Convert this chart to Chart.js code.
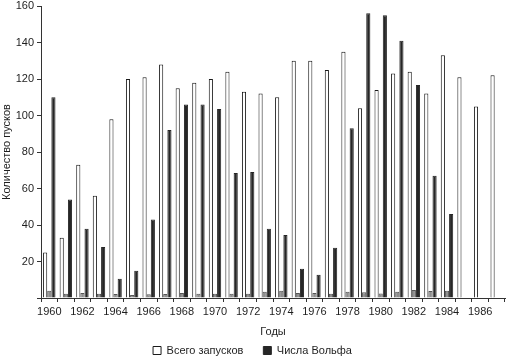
<!DOCTYPE html>
<html>
<head>
<meta charset="utf-8">
<script src="https://cdn.jsdelivr.net/npm/chart.js@4/dist/chart.umd.min.js"></script>
<style>
  html, body { margin: 0; padding: 0; background: #fff; }
  #wrap { width: 509px; height: 358px; position: relative; }
</style>
</head>
<body>
<div id="wrap"><canvas id="c" width="509" height="358"></canvas></div>
<script>
const years = ['1960','1961','1962','1963','1964','1965','1966','1967','1968','1969',
               '1970','1971','1972','1973','1974','1975','1976','1977','1978','1979',
               '1980','1981','1982','1983','1984','1985','1986','1987'];
const totalLaunches = [25, 33, 73, 56, 98, 120, 121, 128, 115, 118,
                       120, 124, 113, 112, 110, 130, 130, 125, 135, 104,
                       114, 123, 124, 112, 133, 121, 105, 122];
const smallSeries = [4, 2.3, 2.7, 2.3, 2.2, 1.6, 2, 2.2, 2.7, 2.3,
                     2.3, 2.3, 2.3, 3.4, 4, 2.7, 2.7, 2.3, 3.4, 3.1,
                     2.5, 3.4, 4.4, 3.8, 4, null, null, null];
const wolfNumbers = [110, 54, 38, 28, 10.5, 15, 43, 92, 106, 106,
                     103.5, 68.5, 69, 38, 34.5, 16, 12.8, 27.5, 93, 156,
                     155, 141, 116.7, 67, 46, null, null, null];
const yTicks = [0, 20, 40, 60, 80, 100, 120, 140, 160];
const seriesNames = ['Всего запусков', 'Числа Вольфа'];
const axisTitles = { x: 'Годы', y: 'Количество пусков' };

const FONT = 'Liberation Sans, Arial, sans-serif';
const TXT = '#1e1e1e';
const AX = '#333333';

new Chart(document.getElementById('c'), {
  type: 'bar',
  data: {
    labels: years,
    datasets: [
      { label: seriesNames[0], data: totalLaunches, backgroundColor: '#ffffff',
        borderColor: '#1a1a1a', borderWidth: 1 },
      { label: '', data: smallSeries, backgroundColor: '#8e8e8e',
        borderColor: '#555555', borderWidth: 1 },
      { label: seriesNames[1], data: wolfNumbers, backgroundColor: '#262626',
        borderColor: '#262626', borderWidth: 1 }
    ]
  },
  options: {
    responsive: false,
    animation: false,
    devicePixelRatio: 1,
    layout: { padding: { top: 6, right: 4, left: 0, bottom: -8 } },
    datasets: { bar: { categoryPercentage: 0.75, barPercentage: 1.0 } },
    plugins: {
      tooltip: { enabled: false },
      legend: {
        position: 'bottom',
        labels: {
          boxWidth: 8, boxHeight: 8, padding: 20,
          color: TXT, font: { family: FONT, size: 11 },
          filter: (item) => item.datasetIndex !== 1
        }
      }
    },
    scales: {
      x: {
        offset: true,
        grid: { display: true, drawOnChartArea: false, drawTicks: true, tickLength: 4, offset: true, color: AX },
        border: { display: true, color: AX },
        ticks: {
          autoSkip: false, maxRotation: 0, minRotation: 0, padding: 3,
          color: TXT, font: { family: FONT, size: 11 },
          callback: function(val, idx) { return idx % 2 === 0 ? this.getLabelForValue(val) : ''; }
        },
        title: { display: true, text: axisTitles.x, color: TXT, font: { family: FONT, size: 11 },
                 padding: { top: 0, bottom: -14 } },
        afterFit: (s) => { s.height = 27; }
      },
      y: {
        min: yTicks[0], max: yTicks[yTicks.length - 1],
        afterBuildTicks: (s) => { s.ticks = yTicks.map(v => ({ value: v })); },
        grid: { display: true, drawOnChartArea: false, drawTicks: true, tickLength: 4, color: AX },
        border: { display: true, color: AX },
        ticks: {
          padding: 3, color: TXT, font: { family: FONT, size: 11 },
          callback: (v) => v === 0 ? '' : v
        },
        title: { display: true, text: axisTitles.y, color: TXT, font: { family: FONT, size: 11 },
                 padding: { top: 0, bottom: 0 } },
        afterFit: (s) => { s.width = 41; s.paddingTop = 0; s.paddingBottom = 0; }
      }
    }
  }
});
</script>
</body>
</html>
